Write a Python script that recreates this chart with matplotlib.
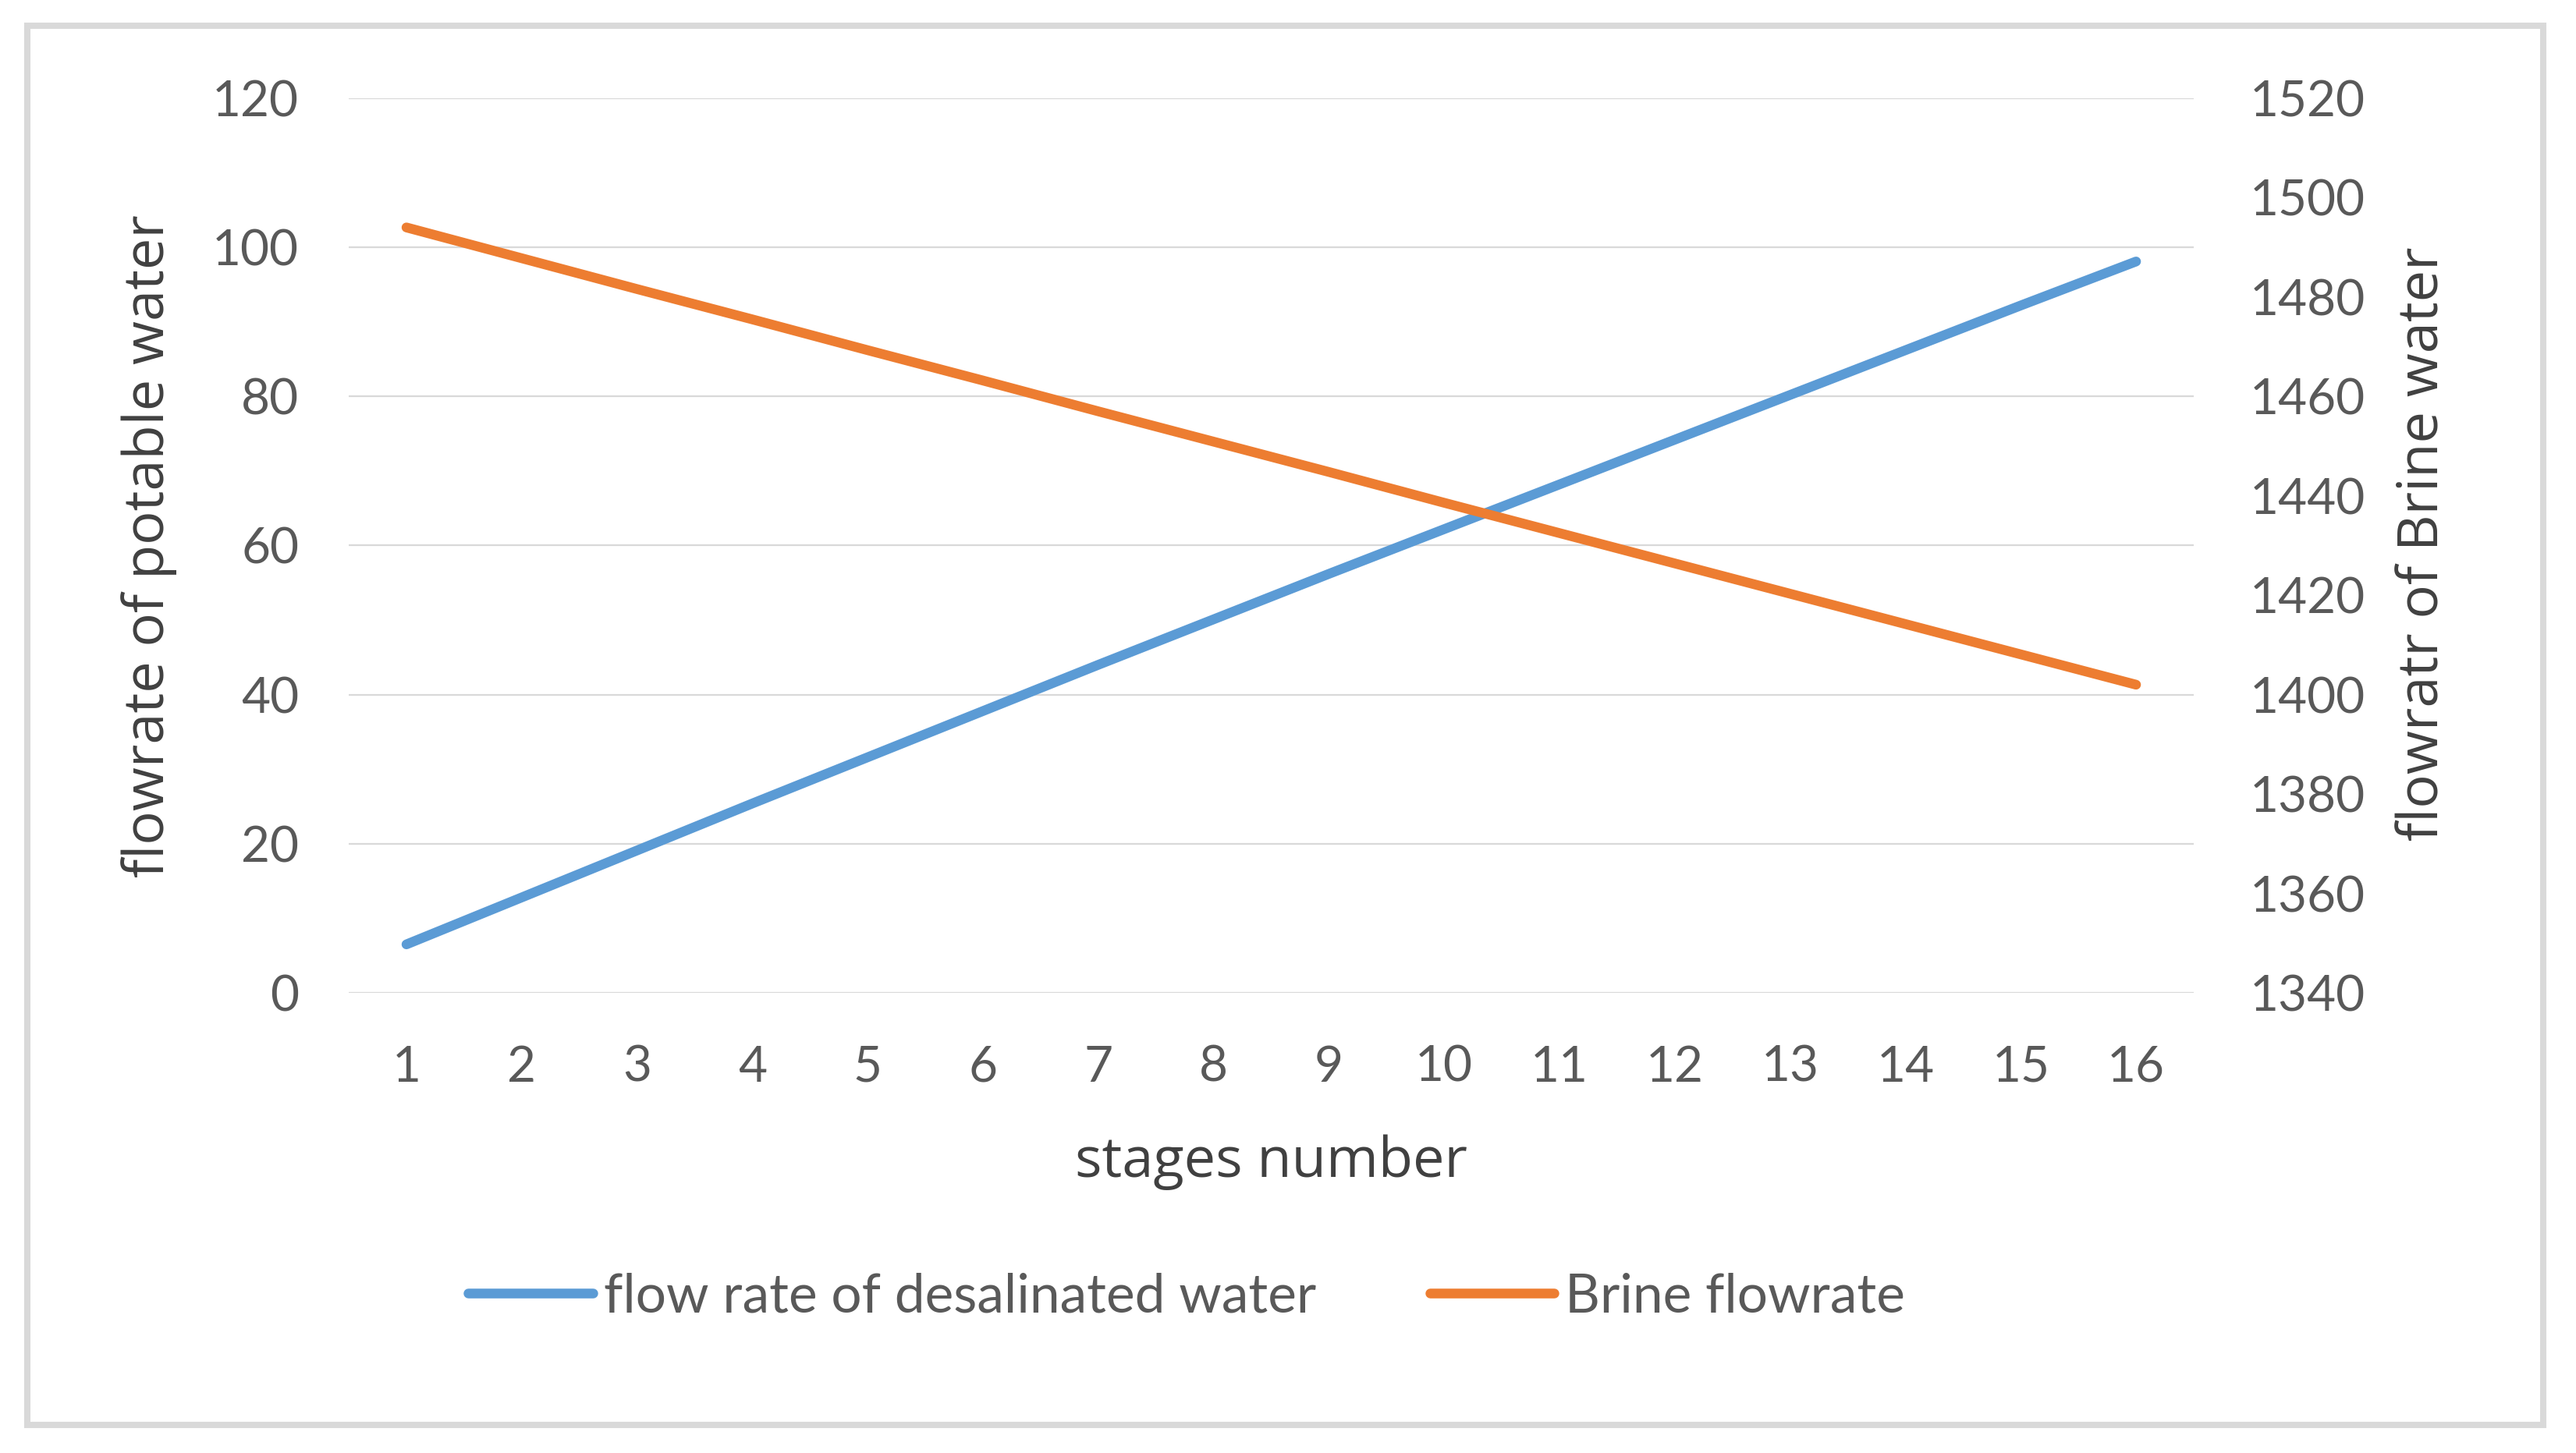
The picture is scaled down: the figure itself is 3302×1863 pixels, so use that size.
import matplotlib
matplotlib.use("Agg")
import matplotlib.pyplot as plt
from matplotlib.lines import Line2D
from matplotlib.patches import Rectangle

# data
stages = list(range(1, 17))
desalinated = [6.5, 12.8, 19.1, 25.4, 31.6, 37.8, 44.0, 50.1,
               56.2, 62.2, 68.2, 74.2, 80.2, 86.2, 92.2, 98.1]
brine = [1494.0, 1487.8, 1481.6, 1475.5, 1469.3, 1463.2, 1457.0, 1450.9,
         1444.8, 1438.6, 1432.5, 1426.4, 1420.3, 1414.2, 1408.1, 1402.0]
left_ticks = [0, 20, 40, 60, 80, 100, 120]
right_ticks = [1340, 1360, 1380, 1400, 1420, 1440, 1460, 1480, 1500, 1520]

BLUE = "#5B9BD5"
ORANGE = "#ED7D31"
GRID = "#D9D9D9"
TICK_TXT = "#595959"
TITLE_TXT = "#404040"

tick_font = dict(family=["Lato", "DejaVu Sans"], size=46, color=TICK_TXT)
title_font = dict(family=["Open Sans", "DejaVu Sans"], size=52, color=TITLE_TXT)

fig = plt.figure(figsize=(33.02, 18.63), dpi=100)
ax = fig.add_axes([0.1354, 0.3167, 0.8516 - 0.1354, 0.9324 - 0.3167])
ax2 = ax.twinx()

# gridlines from the left axis only
for v in left_ticks:
    ax.axhline(v, color=GRID, lw=1.6, zorder=0)

ax.plot(stages, desalinated, color=BLUE, lw=9, solid_capstyle="round", zorder=3)
ax2.plot(stages, brine, color=ORANGE, lw=9, solid_capstyle="round", zorder=3)

ax.set_xlim(0.5, 16.5)
ax.set_ylim(0, 120)
ax2.set_ylim(1340, 1520)

ax.set_xticks(stages)
ax.set_xticklabels([str(s) for s in stages], fontdict=tick_font)
ax.set_yticks(left_ticks)
ax.set_yticklabels([str(v) for v in left_ticks], fontdict=tick_font)
ax2.set_yticks(right_ticks)
ax2.set_yticklabels([str(v) for v in right_ticks], fontdict=tick_font)

ax.tick_params(axis="x", length=0, pad=48)
ax.tick_params(axis="y", length=0, pad=46)
ax2.tick_params(axis="y", length=0, pad=52)

for a in (ax, ax2):
    for s in a.spines.values():
        s.set_visible(False)
    a.patch.set_visible(False)

fig.text(0.4935, 0.200, "stages number", ha="center", va="center", **title_font)
fig.text(0.058, 0.624, "flowrate of potable water", rotation=90,
         ha="center", va="center", **title_font)
fig.text(0.941, 0.626, "flowratr of Brine water", rotation=90,
         ha="center", va="center", **title_font)

handles = [Line2D([], [], color=BLUE, lw=9, solid_capstyle="round"),
           Line2D([], [], color=ORANGE, lw=9, solid_capstyle="round")]
leg = fig.legend(handles, ["flow rate of desalinated water", "Brine flowrate"],
                 loc="center", bbox_to_anchor=(0.4607, 0.1073), ncol=2,
                 frameon=False, handlelength=2.3, handletextpad=0.2,
                 columnspacing=2.1,
                 prop=dict(family=["Lato", "DejaVu Sans"], size=50))
for t in leg.get_texts():
    t.set_color(TICK_TXT)

# light grey chart border
fig.patches.append(Rectangle((0.0106, 0.0193), 0.9873 - 0.0106, 0.9823 - 0.0193,
                             transform=fig.transFigure, fill=False,
                             edgecolor=GRID, lw=5.8))

fig.savefig("out.png", dpi=100, facecolor="white")
